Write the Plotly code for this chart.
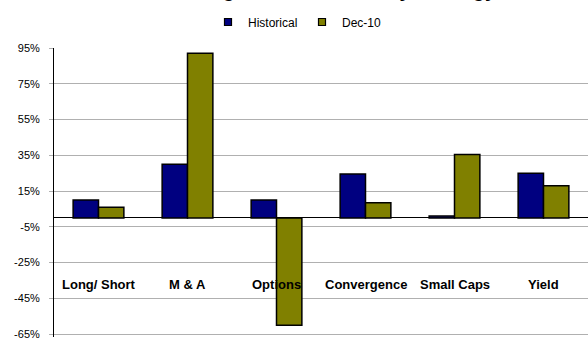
import plotly.graph_objects as go

categories = ["Long/ Short", "M & A", "Options", "Convergence", "Small Caps", "Yield"]
historical = [10, 30, 10, 24.5, 1, 25]
dec10 = [6, 92, -60, 8.5, 35.5, 18]
tick_vals = [-65, -45, -25, -5, 15, 35, 55, 75, 95]
tick_text = [f"{v}%" for v in tick_vals]
title_text = "Hedge Fund Returns by Strategy"

FONT = "Arial, Liberation Sans, sans-serif"
NAVY = "#000080"
OLIVE = "#808000"

fig = go.Figure()
fig.add_trace(go.Bar(name="Historical", x=categories, y=historical, showlegend=False,
                     marker=dict(color=NAVY, line=dict(color="black", width=1.5))))
fig.add_trace(go.Bar(name="Dec-10", x=categories, y=dec10, showlegend=False,
                     marker=dict(color=OLIVE, line=dict(color="black", width=1.5))))
# legend entries (small square keys)
for name, col in [("Historical", NAVY), ("Dec-10", OLIVE)]:
    fig.add_trace(go.Scatter(name=name, x=[None], y=[None], mode="markers",
                             marker=dict(symbol="square", size=7, color=col,
                                         line=dict(color="black", width=1.2))))

for c in categories:
    fig.add_annotation(x=c, y=-37.5, xref="x", yref="y", text=f"<b>{c}</b>",
                       showarrow=False, font=dict(family=FONT, size=13, color="black"))

# chart title, mostly cut off by the top edge as in the reference
fig.add_annotation(x=490/588, xref="paper", xanchor="right", y=1, yref="paper",
                   yanchor="bottom", yshift=45, text=f"<b>{title_text}</b>",
                   showarrow=False, font=dict(family=FONT, size=20, color="black"))

fig.update_layout(
    width=588, height=340,
    margin=dict(l=54, r=0, t=48, b=1),
    plot_bgcolor="white", paper_bgcolor="white",
    barmode="group", bargap=0.43, bargroupgap=0,
    font=dict(family=FONT, size=11, color="black"),
    legend=dict(orientation="h", x=(208-54)/534, xanchor="left", y=1 - 22/340, yanchor="middle",
                yref="container", font=dict(family=FONT, size=12, color="black"),
                itemwidth=30, entrywidth=49, entrywidthmode="pixels",
                traceorder="normal", bgcolor="rgba(0,0,0,0)", borderwidth=0),
    showlegend=True,
)
fig.update_xaxes(showticklabels=False, showgrid=False, showline=False, ticks="")
fig.update_yaxes(range=[-66.6, 95], tickvals=tick_vals, ticktext=tick_text,
                 showgrid=True, gridcolor="#b0b0b0", gridwidth=1,
                 showline=True, linecolor="black", linewidth=1,
                 ticks="outside", ticklen=4, tickcolor="#b0b0b0", ticklabelstandoff=7,
                 ticklabeloverflow="allow",
                 zeroline=True, zerolinecolor="black", zerolinewidth=1,
                 tickfont=dict(family=FONT, size=11, color="black"))

fig.write_html("out.html")
